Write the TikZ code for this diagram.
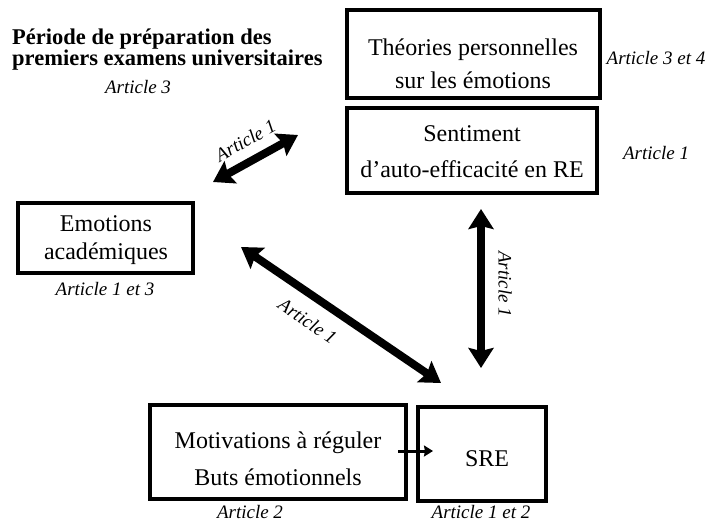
\documentclass[tikz,border=0pt]{standalone}
\usepackage{fontspec}
\setmainfont{Liberation Serif}
\usetikzlibrary{arrows.meta}
\begin{document}
\begin{tikzpicture}[x=1pt,y=-1pt,
  box/.style={draw=black, line width=3.5pt, inner sep=0pt},
  boxtext/.style={align=center, inner sep=0pt, font=\fontsize{24}{#1}\selectfont},
  boxtext/.default=33,
  note/.style={font=\fontsize{19}{22}\selectfont\itshape, inner sep=0pt},
  bigarrow/.style={line width=8pt, {Stealth[length=20pt,width=25pt,inset=3pt]}-{Stealth[length=20pt,width=25pt,inset=3pt]}},
  smallarrow/.style={line width=3pt, -{Stealth[length=9pt,width=11pt,inset=1pt]}}]
\useasboundingbox (0,0) rectangle (708,522);

% title of the period
\node[anchor=west, align=left, inner sep=0pt,
  font=\fontsize{22.5}{21}\selectfont\bfseries] (title) at (12,50)
  {Période de préparation des\\premiers examens universitaires};
\node[note] (titlenote) at (138,87) {Article 3};

% boxes
\node[box, minimum width=253pt, minimum height=88pt] (theo) at (473.5,54) {};
\node[box, minimum width=250pt, minimum height=85pt] (sent) at (472,150.5) {};
\node[box, minimum width=175pt, minimum height=70pt] (emo) at (105.5,238) {};
\node[box, minimum width=256pt, minimum height=94pt] (moti) at (278,452) {};
\node[box, minimum width=128pt, minimum height=94pt] (sre) at (482,454) {};

% box contents
\node[boxtext=33] (theot) at (473,64) {Théories personnelles\\sur les émotions};
\node[boxtext=36] (sentt) at (472,152) {Sentiment\\d’auto-efficacité en RE};
\node[boxtext=28] (emot) at (106,240) {Emotions\\académiques};
\node[boxtext=37] (motit) at (278,459) {Motivations à réguler\\Buts émotionnels};
\node[boxtext] (sret) at (487,459) {SRE};

% article labels
\node[note] (ntheo) at (656,58) {Article 3 et 4};
\node[note] (nsent) at (656,153) {Article 1};
\node[note] (nemo) at (105,289) {Article 1 et 3};
\node[note] (nmoti) at (250,512) {Article 2};
\node[note] (nsre) at (481,512) {Article 1 et 2};

% arrow end points
\coordinate (a1) at (213,182);
\coordinate (a2) at (298,135);
\coordinate (b1) at (241,247);
\coordinate (b2) at (441,383);
\coordinate (c1) at (481,209);
\coordinate (c2) at (481,368);
\coordinate (d1) at (398,451);
\coordinate (d2) at (433,451);

% relations
\draw[bigarrow] (a1) -- (a2)
  node[midway, above=10pt, sloped, note] (la) {Article 1};
\draw[bigarrow] (b1) -- (b2)
  node[pos=0.4, below=13pt, sloped, note] (lb) {Article 1};
\draw[bigarrow] (c1) -- (c2);
\node[note, rotate=-90] (lc) at (505,284) {Article 1};
\draw[smallarrow] (d1) -- (d2);
\end{tikzpicture}
\end{document}
